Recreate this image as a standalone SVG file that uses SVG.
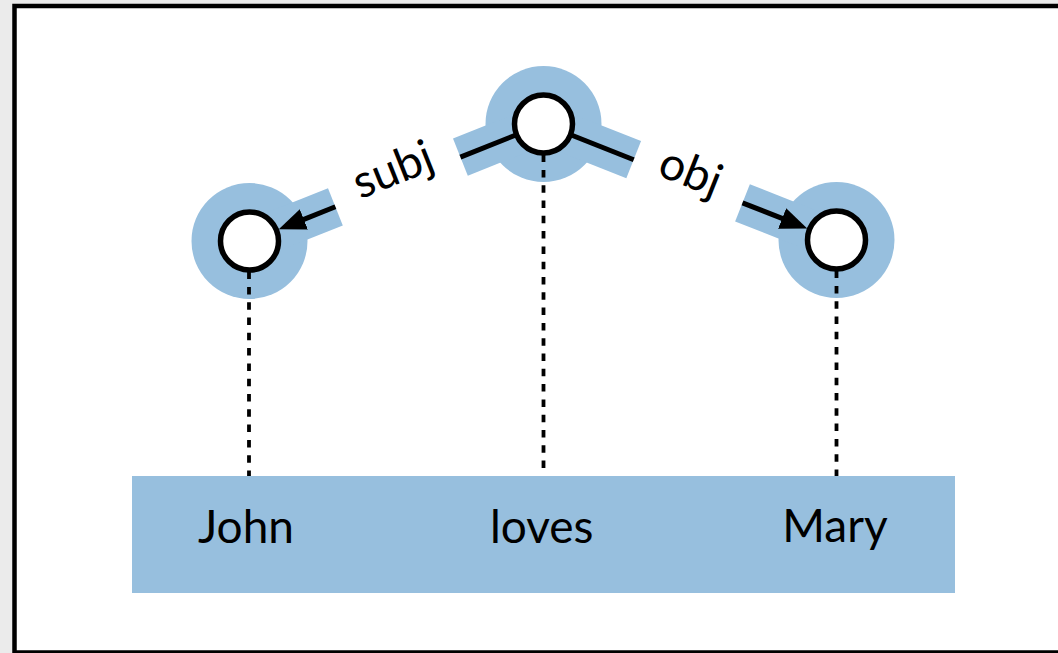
<svg xmlns="http://www.w3.org/2000/svg" width="1058" height="653" viewBox="0 0 1058 653">
  <defs>
    <style>
      .halo { fill: #97bfde; }
      .band { stroke: #97bfde; stroke-width: 40; fill: none; stroke-linecap: butt; }
      .edge { stroke: #000; stroke-width: 5; fill: none; stroke-linecap: butt; }
      .dots { stroke: #000; stroke-width: 3.8; stroke-dasharray: 7.5 7.8; fill: none; }
      .ring { fill: #fff; stroke: #000; stroke-width: 5.5; }
      .word { font-family: Lato, "Open Sans", sans-serif; font-size: 46px; fill: #000; text-anchor: middle; }
    </style>
    <marker id="arrow" markerUnits="userSpaceOnUse" markerWidth="30" markerHeight="26" viewBox="0 -13 30 26" refX="2" refY="0" orient="auto">
      <path d="M0,-11 L27,0 L0,11 Z" fill="#000"/>
    </marker>
  </defs>

  <!-- page and frame -->
  <rect x="0" y="0" width="1058" height="653" fill="#ebebeb"/>
  <rect x="14.5" y="6" width="1100" height="646.5" fill="#fff" stroke="#000" stroke-width="4.5"/>

  <!-- word strip -->
  <rect x="132" y="476" width="823" height="117" class="halo"/>

  <!-- highlight halos behind nodes and edges -->
  <g id="halos">
    <circle cx="543.5" cy="124" r="58" class="halo"/>
    <circle cx="249.5" cy="241" r="58" class="halo"/>
    <circle cx="836.5" cy="240" r="58" class="halo"/>
  </g>

  <!-- connectors -->
  <g id="connectors">
    <!-- subj: loves -> John -->
    <line x1="543.5" y1="124" x2="460.4" y2="157.1" class="band"/>
    <line x1="335.4" y1="206.8" x2="249.5" y2="241" class="band"/>
    <line x1="543.5" y1="124" x2="460.4" y2="157.1" class="edge"/>
    <line x1="335.4" y1="206.8" x2="302" y2="220.1" class="edge" marker-end="url(#arrow)"/>
    <text class="word" transform="translate(398.5 184) rotate(-21.7)">subj</text>

    <!-- obj: loves -> Mary -->
    <line x1="543.5" y1="124" x2="633.7" y2="159.7" class="band"/>
    <line x1="742.5" y1="202.8" x2="836.5" y2="240" class="band"/>
    <line x1="543.5" y1="124" x2="633.7" y2="159.7" class="edge"/>
    <line x1="742.5" y1="202.8" x2="784" y2="219.2" class="edge" marker-end="url(#arrow)"/>
    <text class="word" transform="translate(685 186) rotate(21.7)">obj</text>

    <!-- projection lines down to the words -->
    <line x1="249" y1="241" x2="249" y2="476" class="dots"/>
    <line x1="543.5" y1="124" x2="543.5" y2="476" class="dots"/>
    <line x1="836.5" y1="240" x2="836.5" y2="476" class="dots"/>
  </g>

  <!-- nodes -->
  <g id="node-loves">
    <circle cx="543.5" cy="124" r="29" class="ring"/>
  </g>
  <g id="node-john">
    <circle cx="249.5" cy="241" r="29" class="ring"/>
  </g>
  <g id="node-mary">
    <circle cx="836.5" cy="240" r="29" class="ring"/>
  </g>

  <!-- words -->
  <g id="word-john"><text class="word" x="246" y="542.5">John</text></g>
  <g id="word-loves"><text class="word" x="541.7" y="542.5">loves</text></g>
  <g id="word-mary"><text class="word" x="835" y="542">Mary</text></g>
</svg>
